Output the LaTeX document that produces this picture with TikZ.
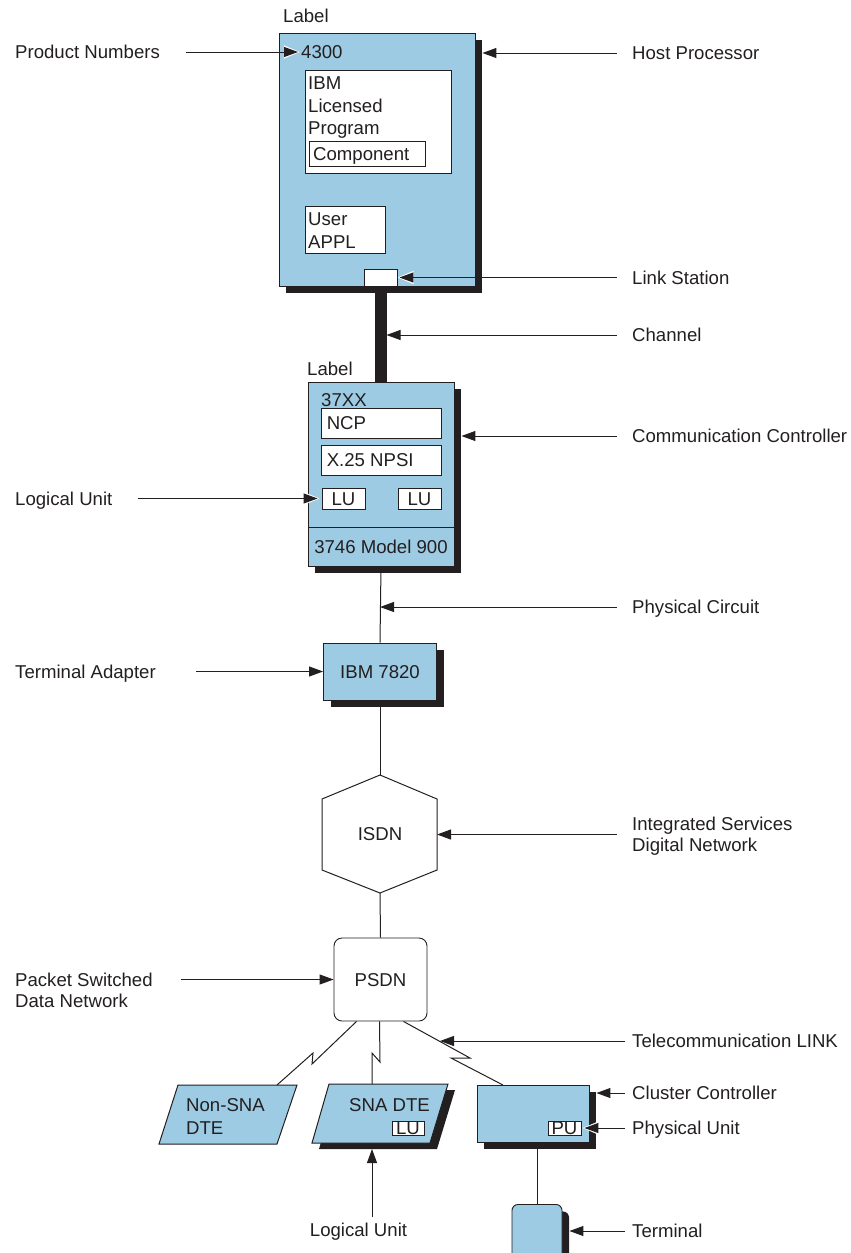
\documentclass[tikz,border=0pt]{standalone}
\usepackage{fontspec}
\setmainfont{Liberation Sans}
\usetikzlibrary{arrows.meta,shadows,calc,positioning}
\definecolor{ibmblue}{RGB}{157,203,227}
\definecolor{ink}{RGB}{35,31,32}
\newcommand\lblfont{\fontsize{18.6}{22}\selectfont}
\tikzset{
  unit/.style={draw=ink, line width=0.9pt, fill=ibmblue, inner sep=0pt},
  sunit/.style={unit, drop shadow={shadow xshift=7pt, shadow yshift=-7pt, fill=ink, opacity=1}},
  inbox/.style={draw=ink, line width=0.9pt, fill=white, inner sep=0pt},
  txt/.style={font=\lblfont, text=ink, inner sep=0pt, text height=13.3pt, text depth=0pt},
  wire/.style={draw=ink, line width=1pt},
  pointer/.style={wire, -{Triangle[length=14pt,width=10pt]}},
  halo/.style={pointer, preaction={draw=white, shorten >=-2.5pt, -{Triangle[length=17pt,width=14pt]}}},
}
\begin{document}
\begin{tikzpicture}[x=1pt,y=-1pt]
  \useasboundingbox (0,0) rectangle (851,1253);
  \clip (0,0) rectangle (851,1253);
  % host processor
  \node[sunit, minimum width=196pt, minimum height=253pt] (host) at (377,159.5) {};
  \node[txt, anchor=west] (hostlbl) at (283,16) {Label};
  \node[txt, anchor=west] (pnum) at (301,52) {4300};
  \node[inbox, minimum width=146pt, minimum height=103pt] (lpgm) at (378,121.5) {};
  \node[txt, anchor=west] (ibm) at (308,83) {IBM};
  \node[txt, anchor=west] (lic) at (308,105.5) {Licensed};
  \node[txt, anchor=west] (prog) at (308,128) {Program};
  \node[inbox, minimum width=116pt, minimum height=25pt, anchor=west] (comp) at (309,153.5) {};
  \node[txt, right=4pt of comp.west] {Component};
  \node[inbox, minimum width=80pt, minimum height=47pt] (appl) at (345,229.5) {};
  \node[txt, anchor=west] (user) at (308,219) {User};
  \node[txt, anchor=west] (applt) at (308,242) {APPL};
  % communication controller
  \node[sunit, minimum width=146pt, minimum height=184pt] (comm) at (381,474) {};
  \node[inbox, minimum width=33pt, minimum height=17pt] (lstn) at (380.5,277.5) {};
  \draw[ink, line width=12pt] (lstn.south) -- (lstn.south |- comm.north);
  \node[txt, anchor=west] (commlbl) at (307,369) {Label};
  \node[txt, anchor=west] (cnum) at (321,400) {37XX};
  \node[inbox, minimum width=120pt, minimum height=30pt] (ncp) at (381,423) {};
  \node[txt, right=6pt of ncp.west] {NCP};
  \node[inbox, minimum width=120pt, minimum height=30pt] (npsi) at (381,460) {};
  \node[txt, right=6pt of npsi.west] {X.25 NPSI};
  \node[inbox, txt, minimum width=43pt, minimum height=21pt] (lua) at (343.5,498.5) {LU};
  \node[inbox, txt, minimum width=43pt, minimum height=21pt] (lub) at (419.5,498.5) {LU};
  \draw[wire] ($(comm.south west)+(0,-39)$) -- ($(comm.south east)+(0,-39)$);
  \node[txt] (model) at (381,547) {3746 Model 900};
  % adapter, ISDN, PSDN
  \node[sunit, txt, minimum width=113pt, minimum height=57pt] (ta) at (380,671.5) {IBM 7820};
  \coordinate (hxt) at (380,775);
  \coordinate (hxb) at (380,893);
  \coordinate (hxe) at (437,834.5);
  \draw[wire, fill=white] (hxt) -- (437,799) -- (437,870) -- (hxb) -- (322,870) -- (322,799) -- cycle;
  \node[txt] (isdn) at (380,834) {ISDN};
  \node[draw=ink, line width=0.9pt, fill=white, rounded corners=8pt, minimum width=93pt, minimum height=83pt, txt] (psdn) at (380.5,979.5) {PSDN};
  \draw[wire] (comm.south) -- (ta.north);
  \draw[wire] (ta.south) -- (hxt);
  \draw[wire] (hxb) -- (psdn.north);
  % DTEs and cluster controller
  \draw[wire, fill=ibmblue] (178,1085) -- (297,1085) -- (277,1144) -- (159,1144) -- cycle;
  \node[txt, anchor=west] (nsa) at (186,1105) {Non-SNA};
  \node[txt, anchor=west] (nsb) at (186,1128) {DTE};
  \fill[ink] (336,1090) -- (455,1090) -- (437,1149) -- (319,1149) -- cycle;
  \draw[wire, fill=ibmblue] (329,1084) -- (448,1084) -- (430,1143) -- (312,1143) -- cycle;
  \node[txt, anchor=west] (sna) at (349,1105) {SNA DTE};
  \node[inbox, txt, minimum width=32pt, minimum height=14pt] (lud) at (408,1128) {LU};
  \node[sunit, minimum width=112pt, minimum height=57pt] (cc) at (533,1113.5) {};
  \node[inbox, txt, minimum width=33pt, minimum height=14pt] (pu) at (564.5,1128) {PU};
  \node[sunit, rounded corners=6pt, minimum width=50pt, minimum height=70pt, anchor=north] (term) at (537,1204) {};
  \draw[wire] (term.north |- cc.south) -- (term.north);
  \coordinate (nsin) at (277,1085);
  \coordinate (snain) at (372,1084);
  \coordinate (ccin) at (503,1085);
  \draw[wire] ($(psdn.south)+(-24,0)$) -- (312,1064) -- (313,1053) -- (nsin);
  \draw[wire] ($(psdn.south)+(-1,0)$) -- (380,1062) -- (372,1053) -- (snain);
  \draw[wire] ($(psdn.south)+(23,0)$) -- (470,1058) -- (451,1058) -- (ccin);
  % labels on the left
  \node[txt, anchor=west] (pn) at (15,52) {Product Numbers};
  \draw[halo, shorten <=26pt] (pn.east) -- ($(pn.east -| pnum.west)+(-3,0)$);
  \node[txt, anchor=west] (lul) at (15,498.5) {Logical Unit};
  \draw[halo, shorten <=25pt] (lul.east) -- ($(lua.west)+(-4,0)$);
  \node[txt, anchor=west] (tad) at (15,671.5) {Terminal Adapter};
  \draw[pointer, shorten <=40pt] (tad.east) -- (ta.west);
  \node[txt, anchor=west] (psa) at (15,979.5) {Packet Switched};
  \node[txt, anchor=west] (psb) at (15,1001) {Data Network};
  \draw[pointer, shorten <=28pt] (psa.east) -- (psdn.west);
  \node[txt] (lubot) at (358.5,1230) {Logical Unit};
  \coordinate (snab) at (372,1149);
  \draw[pointer, shorten <=6pt] (lubot.north -| snab) -- (snab);
  % labels on the right
  \node[txt, anchor=west] (hp) at (632,53) {Host Processor};
  \coordinate (hsh) at ($(host.east)+(7,0)$);
  \draw[pointer, shorten <=15pt] (hp.west) -- (hp.west -| hsh);
  \node[txt, anchor=west] (ls) at (632,277.5) {Link Station};
  \draw[halo, shorten <=15pt] (ls.west) -- ($(lstn.east)+(2,0)$);
  \node[txt, anchor=west] (ch) at (632,335) {Channel};
  \draw[pointer, shorten <=15pt] (ch.west) -- ($(ch.west -| lstn.south)+(6,0)$);
  \node[txt, anchor=west] (cctl) at (632,436) {Communication Controller};
  \coordinate (csh) at ($(comm.east)+(7,0)$);
  \draw[pointer, shorten <=15pt] (cctl.west) -- (cctl.west -| csh);
  \node[txt, anchor=west] (pc) at (632,607) {Physical Circuit};
  \draw[pointer, shorten <=15pt] (pc.west) -- (pc.west -| ta.north);
  \node[txt, anchor=west] (isa) at (632,824) {Integrated Services};
  \node[txt, anchor=west] (isb) at (632,845) {Digital Network};
  \draw[pointer, shorten <=15pt] ($(isa.west)!.5!(isb.west)$) -- (hxe);
  \node[txt, anchor=west] (tlk) at (632,1041) {Telecommunication LINK};
  \coordinate (tlin) at (440,1041);
  \draw[pointer, shorten <=7pt] (tlk.west) -- (tlin);
  \node[txt, anchor=west] (clc) at (632,1093) {Cluster Controller};
  \coordinate (ccsh) at ($(cc.east)+(7,0)$);
  \draw[pointer, shorten <=7pt] (clc.west) -- (clc.west -| ccsh);
  \node[txt, anchor=west] (phu) at (632,1128) {Physical Unit};
  \draw[halo, shorten <=7pt] (phu.west) -- ($(pu.east)+(3,0)$);
  \node[txt, anchor=west] (trm) at (632,1231) {Terminal};
  \coordinate (tsh) at ($(term.east)+(7,0)$);
  \draw[pointer, shorten <=7pt] (trm.west) -- (trm.west -| tsh);
\end{tikzpicture}
\end{document}
